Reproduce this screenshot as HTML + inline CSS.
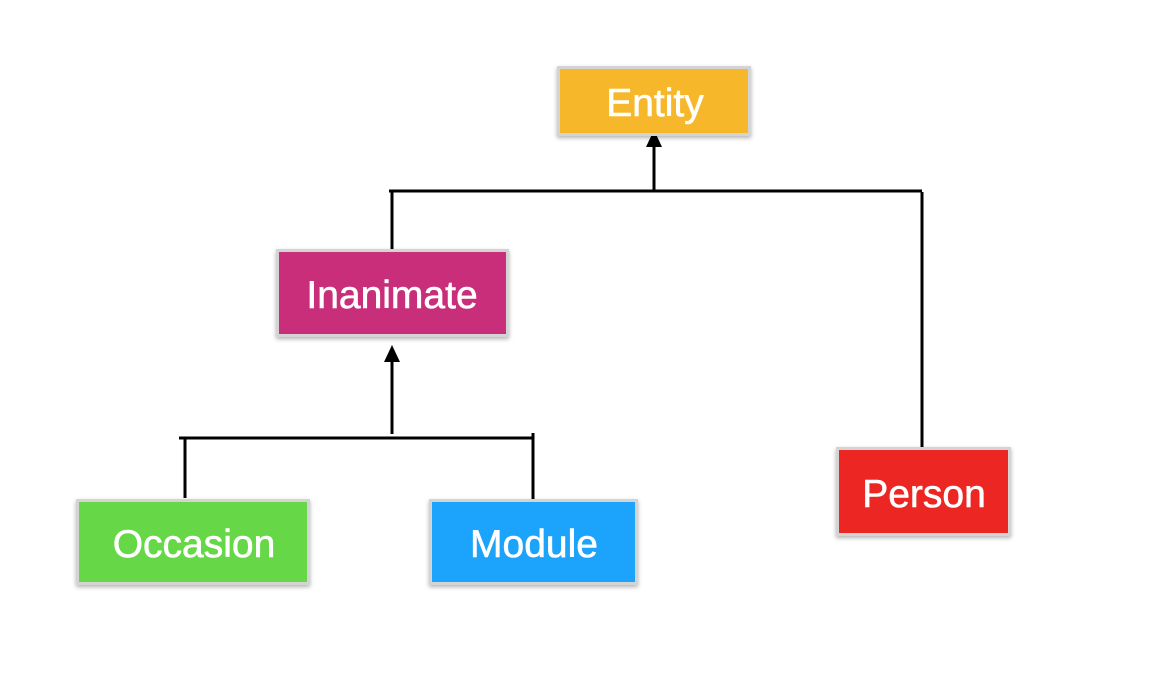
<!DOCTYPE html>
<html><head><style>body{margin:0;background:#fff}svg{display:block}</style></head><body>
<svg width="1158" height="698" viewBox="0 0 1158 698" xmlns="http://www.w3.org/2000/svg" font-family="Liberation Sans, sans-serif">
<defs><filter id="s" x="-10%" y="-10%" width="120%" height="130%"><feDropShadow dx="0" dy="2" stdDeviation="2" flood-color="#000" flood-opacity="0.3"/></filter></defs>
<g stroke="#000" stroke-width="3" fill="none">
<line x1="389" y1="191" x2="922" y2="191"/>
<line x1="654" y1="191" x2="654" y2="145"/>
<line x1="392" y1="190" x2="392" y2="251"/>
<line x1="922" y1="192" x2="922" y2="448"/>
<line x1="392" y1="434" x2="392" y2="360"/>
<line x1="179" y1="438" x2="534" y2="438"/>
<line x1="185" y1="438" x2="185" y2="498"/>
<line x1="533" y1="433" x2="533" y2="504"/>
</g>
<polygon points="654,130 646,147 662,147" fill="#000"/>
<polygon points="392,345 384,362 400,362" fill="#000"/>
<g stroke="#d4d4d4" stroke-width="3" filter="url(#s)">
<rect x="558.5" y="67.5" width="191" height="67" fill="#F6B82C"/>
<rect x="277.5" y="250.5" width="230" height="85" fill="#C92F7A"/>
<rect x="77.5" y="500.5" width="231" height="83" fill="#66D747"/>
<rect x="430.5" y="500.5" width="206" height="83" fill="#1EA3FB"/>
<rect x="837.5" y="448.5" width="172" height="86" fill="#EC2820"/>
</g>
<g fill="#fff" font-size="39" text-anchor="middle" stroke="#fff" stroke-width="0.6">
<text x="655" y="116">Entity</text>
<text x="392" y="308">Inanimate</text>
<text x="194" y="557">Occasion</text>
<text x="534" y="557">Module</text>
<text x="924" y="507">Person</text>
</g>
</svg>
</body></html>
